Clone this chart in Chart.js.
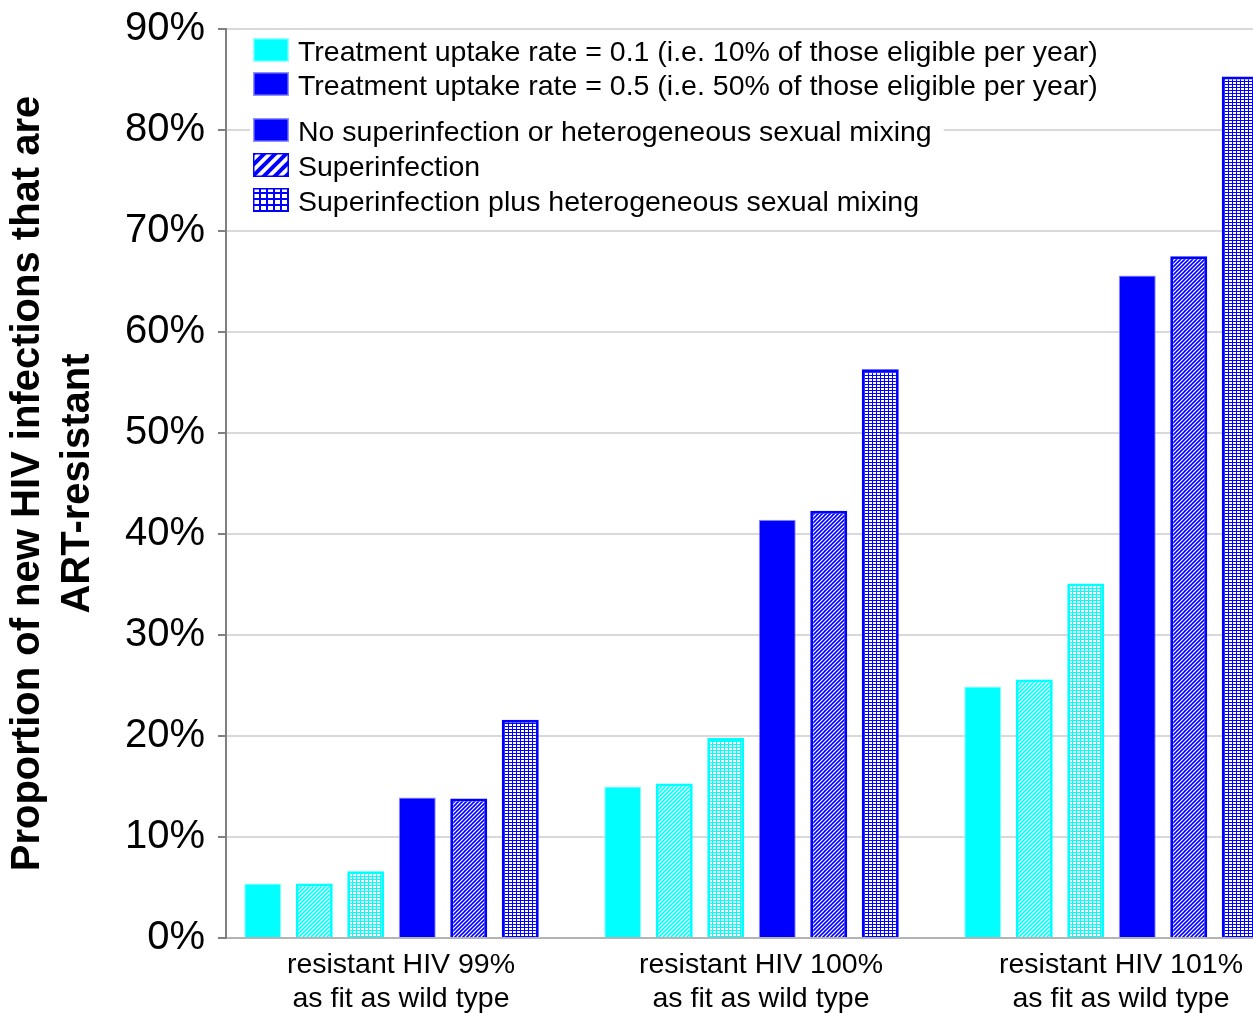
<!DOCTYPE html>
<html>
<head>
<meta charset="utf-8">
<title>ART-resistant HIV infections</title>
<script src="https://cdn.jsdelivr.net/npm/chart.js@4.4.1/dist/chart.umd.min.js"></script>
<style>
  html, body { margin: 0; padding: 0; background: #fff; overflow: hidden; }
  #wrap { width: 1306px; height: 1013px; }
  canvas { display: block; }
</style>
</head>
<body>
<div id="wrap"><canvas id="chart" width="1306" height="1013"></canvas></div>
<script>
const categories = [
  ['resistant HIV 99%', 'as fit as wild type'],
  ['resistant HIV 100%', 'as fit as wild type'],
  ['resistant HIV 101%', 'as fit as wild type']
];
const uptakeLabels = [
  'Treatment uptake rate = 0.1 (i.e. 10% of those eligible per year)',
  'Treatment uptake rate = 0.5 (i.e. 50% of those eligible per year)'
];
const scenarioLabels = [
  'No superinfection or heterogeneous sexual mixing',
  'Superinfection',
  'Superinfection plus heterogeneous sexual mixing'
];
const yTickValues = [0, 10, 20, 30, 40, 50, 60, 70, 80, 90];

// % of new HIV infections that are ART-resistant, uptake rate 0.1
const lowNoSI   = [5.4, 15.0, 24.9];
const lowSI     = [5.4, 15.3, 25.6];
const lowSIMix  = [6.6, 19.8, 35.1];
// uptake rate 0.5
const highNoSI  = [13.9, 41.4, 65.6];
const highSI    = [13.8, 42.3, 67.5];
const highSIMix = [21.6, 56.3, 85.3];

const FONT = "'Liberation Sans', Arial, Helvetica, sans-serif";
const CYAN = '#00ffff';
const BLUE = '#0000ff';

// small tiled patterns for the hatched bars
function diagPattern(color, size, lw) {
  const c = document.createElement('canvas');
  c.width = c.height = size;
  const g = c.getContext('2d');
  g.fillStyle = '#fff';
  g.fillRect(0, 0, size, size);
  g.strokeStyle = color;
  g.lineWidth = lw;
  g.beginPath();
  g.moveTo(0, size); g.lineTo(size, 0);
  g.moveTo(-size / 2, size / 2); g.lineTo(size / 2, -size / 2);
  g.moveTo(size / 2, size * 1.5); g.lineTo(size * 1.5, size / 2);
  g.stroke();
  return g.createPattern(c, 'repeat');
}
function gridPattern(color, w, h, lw) {
  const c = document.createElement('canvas');
  c.width = w; c.height = h;
  const g = c.getContext('2d');
  g.fillStyle = '#fff';
  g.fillRect(0, 0, w, h);
  g.fillStyle = color;
  g.fillRect(0, 0, lw, h);
  g.fillRect(0, 0, w, lw);
  return g.createPattern(c, 'repeat');
}

const fills = {
  cyanDiag: diagPattern(CYAN, 4, 1.6),
  cyanGrid: gridPattern(CYAN, 4, 3, 1),
  blueDiag: diagPattern(BLUE, 4, 1.6),
  blueGrid: gridPattern(BLUE, 4, 3, 1),
  legendDiag: diagPattern(BLUE, 11, 4),
  legendGrid: gridPattern(BLUE, 7, 6, 2)
};

// The original groups sit a little left of the category centre.
// Chart.js centres each group, so every dataset gets its own
// category/bar percentage to put its bar in the right slot.
const CAT_W = 360, SLOT = 51.5, BAR_W = 37, GROUP_SHIFT = -14.5, N = 6;
function slot(i) {
  const want = SLOT * (i - (N - 1) / 2) + GROUP_SHIFT;
  const k = (i + 0.5) / N - 0.5;
  const cat = want / (CAT_W * k);
  return { categoryPercentage: cat, barPercentage: BAR_W * N / (CAT_W * cat) };
}

function ds(i, label, values, fill, border, bw) {
  return Object.assign({
    label, data: values,
    backgroundColor: fill, borderColor: border, borderWidth: bw
  }, slot(i));
}

const datasets = [
  ds(0, uptakeLabels[0] + ' - ' + scenarioLabels[0], lowNoSI, CYAN, '#8fffff', 1),
  ds(1, uptakeLabels[0] + ' - ' + scenarioLabels[1], lowSI, fills.cyanDiag, CYAN, 3),
  ds(2, uptakeLabels[0] + ' - ' + scenarioLabels[2], lowSIMix, fills.cyanGrid, CYAN, 3),
  ds(3, uptakeLabels[1] + ' - ' + scenarioLabels[0], highNoSI, BLUE, '#9090ff', 1),
  ds(4, uptakeLabels[1] + ' - ' + scenarioLabels[1], highSI, fills.blueDiag, BLUE, 3),
  ds(5, uptakeLabels[1] + ' - ' + scenarioLabels[2], highSIMix, fills.blueGrid, BLUE, 3)
];

// legend drawn as two white boxes inside the plot, like the original
const legendGroups = [
  { top: 33, rows: [50, 84], items: [
    { text: uptakeLabels[0], fill: CYAN, border: '#8fffff' },
    { text: uptakeLabels[1], fill: BLUE, border: '#9090ff' }
  ]},
  { top: 113, rows: [130, 165, 200], items: [
    { text: scenarioLabels[0], fill: BLUE, border: '#9090ff' },
    { text: scenarioLabels[1], fill: fills.legendDiag, border: BLUE },
    { text: scenarioLabels[2], fill: fills.legendGrid, border: BLUE }
  ]}
];

const boxLegend = {
  id: 'boxLegend',
  afterDatasetsDraw(chart) {
    const ctx = chart.ctx;
    const x0 = 250, sx = 253, sw = 36, sh = 24, tx = 298;
    ctx.save();
    ctx.font = '28.5px ' + FONT;
    ctx.textBaseline = 'middle';
    legendGroups.forEach(g => {
      const wMax = Math.max(...g.items.map(it => ctx.measureText(it.text).width));
      const bottom = g.rows[g.rows.length - 1] + 18;
      ctx.fillStyle = '#fff';
      ctx.fillRect(x0, g.top, tx + wMax + 12 - x0, bottom - g.top);
      g.items.forEach((it, i) => {
        const y = g.rows[i];
        ctx.fillStyle = it.fill;
        ctx.fillRect(sx, y - sh / 2, sw, sh);
        ctx.strokeStyle = it.border;
        ctx.lineWidth = 1.5;
        ctx.strokeRect(sx + 0.75, y - sh / 2 + 0.75, sw - 1.5, sh - 1.5);
        ctx.fillStyle = '#000';
        ctx.fillText(it.text, tx, y + 3);
      });
    });
    ctx.restore();
  }
};

new Chart(document.getElementById('chart'), {
  type: 'bar',
  data: { labels: categories, datasets },
  plugins: [boxLegend],
  options: {
    responsive: false,
    animation: false,
    layout: { padding: { top: 29, right: 0, bottom: 0, left: 0 } },
    plugins: { legend: { display: false }, tooltip: { enabled: false } },
    scales: {
      x: {
        grid: { display: false, drawTicks: false },
        border: { display: true, color: '#b4b4b4', width: 2 },
        ticks: {
          color: '#000', font: { family: FONT, size: 28.5, lineHeight: 1.2 },
          padding: 10, maxRotation: 0, autoSkip: false, labelOffset: -5
        },
        afterFit: s => { s.height = 75; }
      },
      y: {
        min: 0, max: 90,
        afterBuildTicks: s => { s.ticks = yTickValues.map(v => ({ value: v })); },
        grid: { color: '#d9d9d9', lineWidth: 2, tickColor: '#808080', tickLength: 8 },
        border: { display: true, color: '#808080', width: 2 },
        ticks: {
          color: '#000', font: { family: FONT, size: 40 }, padding: 13,
          callback: v => v + '%'
        },
        title: {
          display: true,
          text: ['Proportion of new HIV infections that are', 'ART-resistant'],
          color: '#000',
          font: { family: FONT, size: 40, weight: 'bold', lineHeight: 1.25 },
          padding: { top: 3, bottom: 0 }
        },
        afterFit: s => { s.width = 226; s.paddingTop = 0; s.paddingBottom = 0; }
      }
    }
  }
});
</script>
</body>
</html>
